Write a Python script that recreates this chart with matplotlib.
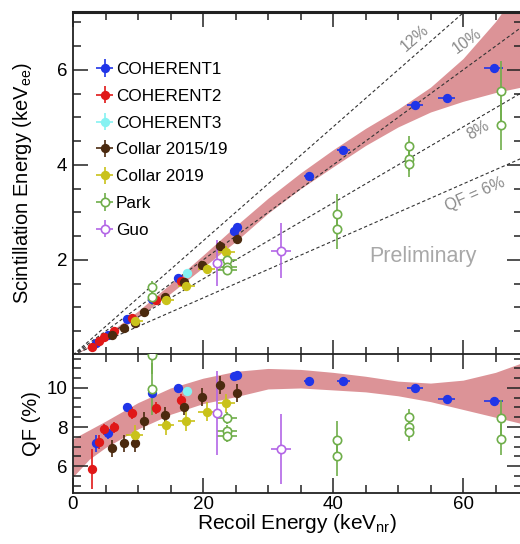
import numpy as np
import matplotlib
matplotlib.use("Agg")
import matplotlib.pyplot as plt
from matplotlib.ticker import MultipleLocator

plt.rcParams['font.family'] = ['Liberation Sans', 'DejaVu Sans']
plt.rcParams['mathtext.default'] = 'regular'

# ---------------- data (E_nr in keV, QF in %) ----------------
coh1_E = [3.6, 5.4, 8.3, 12.1, 16.2, 24.7, 25.3, 36.3, 41.6, 52.6, 57.5, 64.7]
coh1_QF = [7.16, 7.67, 9.04, 9.76, 9.98, 10.6, 10.65, 10.36, 10.36, 10.02, 9.42, 9.33]
coh1_QFerr = [0.45, 0.3, 0.2, 0.2, 0.15, 0.15, 0.15, 0.1, 0.1, 0.1, 0.1, 0.1]
coh1_Eerr = [0.3, 0.3, 0.4, 0.5, 0.6, 0.6, 0.6, 0.8, 1.0, 1.2, 1.3, 1.5]

coh2_E = [2.9, 4.0, 4.8, 6.3, 9.0, 12.8, 16.6]
coh2_QF = [5.85, 7.22, 7.88, 7.98, 8.7, 8.98, 9.38]
coh2_QFerr = [1.0, 0.35, 0.3, 0.3, 0.3, 0.3, 0.3]
coh2_Eerr = [0.2, 0.2, 0.2, 0.3, 0.3, 0.4, 0.4]

coh3_E = [17.6]
coh3_QF = [9.83]
coh3_QFerr = [0.15]
coh3_Eerr = [0.4]

col15_E = [6.0, 7.9, 9.5, 10.9, 14.2, 17.0, 19.9, 22.6, 25.2]
col15_QF = [6.9, 7.16, 7.18, 8.31, 8.6, 9.04, 9.54, 10.15, 9.73]
col15_QFerr = [0.45] * 9
col15_Eerr = [0.6] * 9

col19_E = [9.5, 14.3, 17.4, 20.6, 23.6]
col19_QF = [7.6, 8.1, 8.3, 8.79, 9.21]
col19_QFerr = [0.5] * 5
col19_Eerr = [1.3] * 5

park_E = [12.2, 12.2, 23.7, 23.7, 23.7, 40.6, 40.6, 51.7, 51.7, 51.7, 65.8, 65.8]
park_QF = [11.7, 9.95, 8.47, 7.82, 7.52, 7.33, 6.51, 8.5, 7.98, 7.76, 8.44, 7.37]
park_QFerr = [1.0, 1.35, 0.3, 0.3, 0.3, 1.0, 1.0, 0.4, 0.5, 0.5, 0.95, 0.8]
park_Eerr = [0.3, 0.3, 1.5, 1.5, 1.5, 0.6, 0.6, 0.6, 0.6, 0.6, 0.6, 0.6]

guo_E = [22.2, 32.0]
guo_QF = [8.73, 6.86]
guo_QFerr = [2.15, 1.8]
guo_Eerr = [0.6, 1.5]

# QF band (%)
band_E = [0, 2.5, 5, 10, 15, 20, 25, 30, 35, 40, 45, 50, 55, 60, 65, 70]
band_lo = [5.45, 6.35, 6.95, 7.9, 8.65, 9.2, 9.55, 9.95, 10.0, 9.9, 9.8, 9.6, 9.3, 8.9, 8.5, 8.1]
band_hi = [7.4, 7.85, 8.3, 9.25, 10.0, 10.5, 10.85, 11.0, 10.95, 10.8, 10.6, 10.35, 10.25, 10.4, 10.8, 11.4]

qf_lines = [12, 10, 8, 6]
qf_labels = ['12%', '10%', '8%', 'QF = 6%']
qf_label_E = [52.6, 60.6, 62.3, 61.8]
qf_label_Eee = [6.68, 6.62, 4.74, 3.38]

series = [
    ('COHERENT1', coh1_E, coh1_QF, coh1_QFerr, coh1_Eerr, '#2035e8', True),
    ('COHERENT2', coh2_E, coh2_QF, coh2_QFerr, coh2_Eerr, '#e01818', True),
    ('COHERENT3', coh3_E, coh3_QF, coh3_QFerr, coh3_Eerr, '#85f2f2', True),
    ('Collar 2015/19', col15_E, col15_QF, col15_QFerr, col15_Eerr, '#4b2a0f', True),
    ('Collar 2019', col19_E, col19_QF, col19_QFerr, col19_Eerr, '#c9c21a', True),
    ('Park', park_E, park_QF, park_QFerr, park_Eerr, '#6fae4a', False),
    ('Guo', guo_E, guo_QF, guo_QFerr, guo_Eerr, '#b366e6', False),
]

# ---------------- figure ----------------
W, H = 520, 544
fig = plt.figure(figsize=(W / 100, H / 100), dpi=100)
x0, x1 = 73, 521.5
ax1 = fig.add_axes([x0 / W, (H - 355) / H, (x1 - x0) / W, (355 - 12) / H])
ax2 = fig.add_axes([x0 / W, (H - 493) / H, (x1 - x0) / W, (493 - 354) / H])

XMAX = 69.0
band_color = '#dc9397'

bE = np.array(band_E)
ax1.fill_between(bE, np.array(band_lo) * bE / 100, np.array(band_hi) * bE / 100,
                 color=band_color, lw=0, zorder=1)
ax2.fill_between(bE, band_lo, band_hi, color=band_color, lw=0, zorder=1)

for q in qf_lines:
    ax1.plot([0, 80], [0, q * 80 / 100], ls=(0, (3, 2.2)), lw=0.8, color='#333333', zorder=2)

# label rotation from screen slope
px_per_E = (x1 - x0) / XMAX
px_per_Eee = 343 / 7.22
for q, lab, le, lee in zip(qf_lines, qf_labels, qf_label_E, qf_label_Eee):
    ang = np.degrees(np.arctan(q / 100 * px_per_Eee / px_per_E))
    ax1.text(le, lee, lab, rotation=ang, ha='center', va='center',
             color='#8a8a8a', fontsize=11.5, zorder=3)

ax1.text(53.8, 2.08, 'Preliminary', ha='center', va='center', color='#a8a8a8', fontsize=15.5)

handles = []
for name, E, QF, QFe, Ee, col, filled in series:
    E = np.array(E); QF = np.array(QF); QFe = np.array(QFe); Ee = np.array(Ee)
    mfc = col if filled else 'white'
    kw = dict(fmt='o', color=col, ecolor=col, mfc=mfc, mec=col, ms=5.5 if filled else 6,
              mew=1.2, elinewidth=1.2, capsize=0, zorder=5)
    h = ax1.errorbar(E, QF * E / 100, yerr=QFe * E / 100, xerr=Ee, **kw)
    ax2.errorbar(E, QF, yerr=QFe, xerr=Ee, **kw)
    handles.append((h, name))

leg = ax1.legend([h for h, _ in handles], [n for _, n in handles], loc='upper left',
                 bbox_to_anchor=((98 - x0) / (x1 - x0), (355 - 62) / 343),
                 frameon=False, fontsize=12.3, handlelength=0.8, handletextpad=0.25,
                 labelspacing=0.69, borderaxespad=0, borderpad=0)

# axes styling
for ax in (ax1, ax2):
    ax.set_xlim(0, XMAX)
    ax.xaxis.set_major_locator(MultipleLocator(20))
    ax.xaxis.set_minor_locator(MultipleLocator(5))
    ax.tick_params(which='both', direction='in', top=True, right=True, labelsize=13.5,
                   width=1.1, color='#222222')
    ax.tick_params(which='major', length=11, pad=4)
    ax.tick_params(which='minor', length=6)
    for s in ax.spines.values():
        s.set_linewidth(1.3)
        s.set_color('#222222')

ax2.tick_params(axis='x', pad=2)
ax1.spines['top'].set_linewidth(2.2)
ax1.set_ylim(0, 7.22)
ax1.set_yticks([2, 4, 6])
ax1.yaxis.set_minor_locator(MultipleLocator(0.5))
ax1.tick_params(labelbottom=False)

ax2.set_ylim(4.62, 11.74)
ax2.set_yticks([6, 8, 10])
ax2.yaxis.set_minor_locator(MultipleLocator(0.5))

ax1.set_ylabel('Scintillation Energy (keV$_{ee}$)', fontsize=14.5)
ax1.yaxis.set_label_coords((34 - x0) / (x1 - x0), 0.5)
ax2.set_ylabel('QF (%)', fontsize=14.5)
ax2.yaxis.set_label_coords((41 - x0) / (x1 - x0), 0.5)
ax2.set_xlabel('Recoil Energy (keV$_{nr}$)', fontsize=15)
ax2.xaxis.set_label_coords(0.5, (493 - 512) / 139)

fig.savefig('out.png', dpi=100)
